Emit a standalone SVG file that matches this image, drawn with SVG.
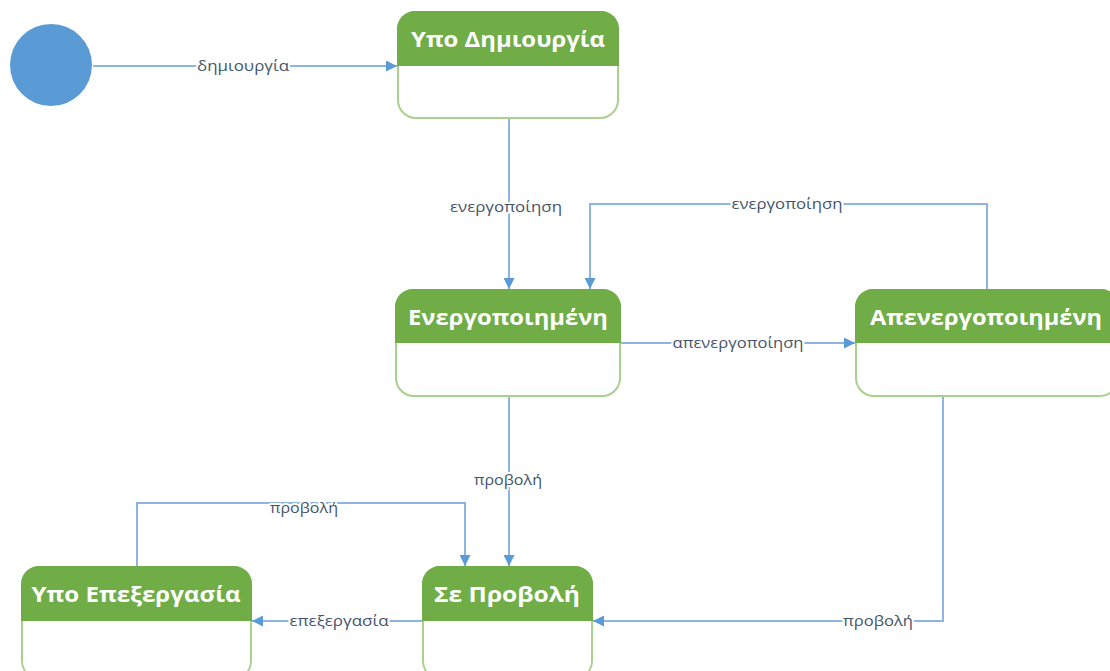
<svg xmlns="http://www.w3.org/2000/svg" width="1110" height="671" viewBox="0 0 1110 671">
<defs>
<marker id="arr" viewBox="0 0 10 10" refX="10" refY="5" markerWidth="11" markerHeight="11" markerUnits="userSpaceOnUse" orient="auto">
<path d="M0,0 L10,5 L0,10 Z" fill="#5B9BD5"/>
</marker>
<style>
.body{fill:#ffffff;stroke:#A9D18E;stroke-width:2}
.head{fill:#70AD47}
.title{fill:#ffffff;font-family:"Open Sans","DejaVu Sans",sans-serif;font-weight:700;font-size:21px;text-anchor:middle}
.edge{fill:none;stroke:#8DB4E2;stroke-width:2}
.lbl{fill:#44546A;font-family:"Open Sans","DejaVu Sans",sans-serif;font-size:15px;text-anchor:middle;stroke:#ffffff;stroke-width:4;paint-order:stroke;stroke-linejoin:round}
</style>
</defs>
<rect width="1110" height="671" fill="#ffffff"/>
<g id="start">
<circle cx="51" cy="65" r="41" fill="#5B9BD5"/>
</g>
<g id="connectors">
<path class="edge" d="M93,66 H397" marker-end="url(#arr)"/>
<text class="lbl" x="243" y="71" textLength="92" lengthAdjust="spacingAndGlyphs">δημιουργία</text>
<path class="edge" d="M509,118 V289" marker-end="url(#arr)"/>
<text class="lbl" x="506" y="212" textLength="112" lengthAdjust="spacingAndGlyphs">ενεργοποίηση</text>
<path class="edge" d="M987,290 V204 H590 V289" marker-end="url(#arr)"/>
<text class="lbl" x="787" y="209" textLength="111" lengthAdjust="spacingAndGlyphs">ενεργοποίηση</text>
<path class="edge" d="M620,343 H855" marker-end="url(#arr)"/>
<text class="lbl" x="738" y="348" textLength="131" lengthAdjust="spacingAndGlyphs">απενεργοποίηση</text>
<path class="edge" d="M509,396 V566" marker-end="url(#arr)"/>
<text class="lbl" x="508" y="485" textLength="68" lengthAdjust="spacingAndGlyphs">προβολή</text>
<path class="edge" d="M137,567 V503 H465 V566" marker-end="url(#arr)"/>
<text class="lbl" x="304" y="513" textLength="68" lengthAdjust="spacingAndGlyphs">προβολή</text>
<path class="edge" d="M423,621 H252" marker-end="url(#arr)"/>
<text class="lbl" x="339" y="626" textLength="99" lengthAdjust="spacingAndGlyphs">επεξεργασία</text>
<path class="edge" d="M943,396 V621 H593" marker-end="url(#arr)"/>
<text class="lbl" x="878" y="626" textLength="70" lengthAdjust="spacingAndGlyphs">προβολή</text>
</g>
<g id="ypo-dimiourgia">
<rect class="body" x="398" y="12" width="220" height="106" rx="18"/>
<path class="head" d="M397,66 V30 A18,18 0 0 1 415,11 H601 A18,18 0 0 1 619,30 V66 Z"/>
<text class="title" x="508" y="47" textLength="194" lengthAdjust="spacingAndGlyphs">Υπο Δημιουργία</text>
</g>
<g id="energopoiimeni">
<rect class="body" x="396" y="290" width="224" height="106" rx="18"/>
<path class="head" d="M395,343 V308 A18,18 0 0 1 413,289 H603 A18,18 0 0 1 621,308 V343 Z"/>
<text class="title" x="508" y="325" textLength="200" lengthAdjust="spacingAndGlyphs">Ενεργοποιημένη</text>
</g>
<g id="apenergopoiimeni">
<rect class="body" x="856" y="290" width="262" height="106" rx="18"/>
<path class="head" d="M855,343 V308 A18,18 0 0 1 873,289 H1101 A18,18 0 0 1 1119,308 V343 Z"/>
<text class="title" x="986" y="325" textLength="232" lengthAdjust="spacingAndGlyphs">Απενεργοποιημένη</text>
</g>
<g id="se-provoli">
<rect class="body" x="423" y="567" width="169" height="112" rx="18"/>
<path class="head" d="M422,621 V585 A18,18 0 0 1 440,566 H575 A18,18 0 0 1 593,585 V621 Z"/>
<text class="title" x="507" y="602" textLength="146" lengthAdjust="spacingAndGlyphs">Σε Προβολή</text>
</g>
<g id="ypo-epexergasia">
<rect class="body" x="22" y="567" width="229" height="112" rx="18"/>
<path class="head" d="M21,621 V585 A18,18 0 0 1 39,566 H234 A18,18 0 0 1 252,585 V621 Z"/>
<text class="title" x="136" y="602" textLength="209" lengthAdjust="spacingAndGlyphs">Υπο Επεξεργασία</text>
</g>
</svg>
